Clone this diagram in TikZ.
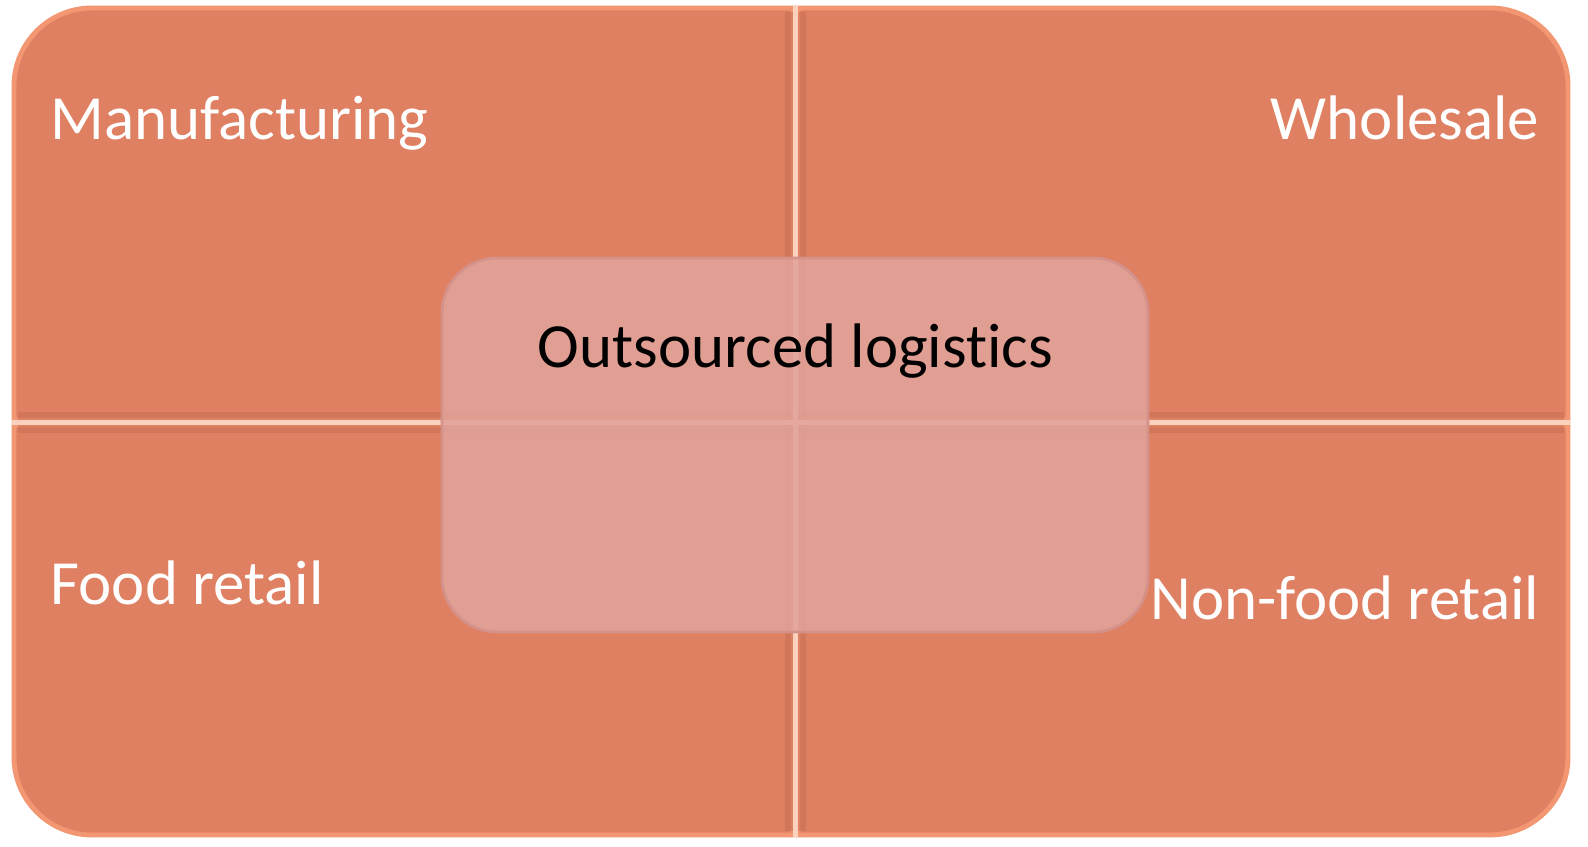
\documentclass[tikz,border=0pt]{standalone}
\usepackage{fontspec}
\setmainfont{Carlito}[Ligatures=NoCommon]
\usepackage{tikz}
\usepackage{xcolor}
\definecolor{quadfill}{HTML}{E08062}
\definecolor{quadedge}{HTML}{F39672}
\definecolor{quadshade}{HTML}{C06A50}
\definecolor{gapline}{HTML}{FAD2BE}
\definecolor{centerfill}{HTML}{E2A39A}
\definecolor{centeredge}{HTML}{D4928A}

\begin{document}
\begin{tikzpicture}[
    quad/.style={fill=quadfill,draw=quadedge,line width=1.4pt},
    bevel/.style={draw=quadshade,draw opacity=0.45,line width=2.5pt},
    gap/.style={draw=gapline,line width=1.6pt},
    quadtext/.style={font=\fontsize{17.9}{22}\selectfont,text=white,inner sep=0pt},
    centerbox/.style={fill=centerfill,fill opacity=0.88,draw=centeredge,line width=0.8pt,
        rounded corners=0.55cm}]
    \fill[white] (0,0) rectangle (15.88,8.47);

    % four quadrants, outer corner rounded
    \path[quad] (7.93,4.27) -- (0.14,4.27) [rounded corners=0.78cm] -- (0.14,8.39) [sharp corners] -- (7.93,8.39) -- cycle;
    \path[quad] (7.98,4.27) -- (7.98,8.39) [rounded corners=0.78cm] -- (15.68,8.39) [sharp corners] -- (15.68,4.27) -- cycle;
    \path[quad] (7.93,4.22) -- (7.93,0.12) [rounded corners=0.78cm] -- (0.14,0.12) [sharp corners] -- (0.14,4.22) -- cycle;
    \path[quad] (7.98,4.22) -- (15.68,4.22) [rounded corners=0.78cm] -- (15.68,0.12) [sharp corners] -- (7.98,0.12) -- cycle;

    % shadow along the inner edges, light gap between
    \path[bevel] (7.89,0.16) -- (7.89,8.35) (8.02,0.16) -- (8.02,8.35);
    \path[bevel] (0.18,4.31) -- (15.64,4.31) (0.18,4.18) -- (15.64,4.18);
    \path[gap] (7.955,0.10) -- (7.955,8.41);
    \path[gap] (0.12,4.245) -- (15.70,4.245);

    \path[centerbox] (4.42,2.15) rectangle (11.48,5.89);

    \node[quadtext,anchor=base west] (manuf) at (0.50,7.07) {Manufacturing};
    \node[quadtext,anchor=base east] (whole) at (15.40,7.07) {Wholesale};
    \node[quadtext,anchor=base west] (food) at (0.50,2.42) {Food retail};
    \node[quadtext,anchor=base east] (nonfood) at (15.40,2.27) {Non-food retail};
    \node[quadtext,text=black,anchor=base] (out) at (7.955,4.79) {Outsourced logistics};

    \pgfresetboundingbox
    \useasboundingbox (0,0) rectangle (15.88,8.47);
\end{tikzpicture}
\end{document}
